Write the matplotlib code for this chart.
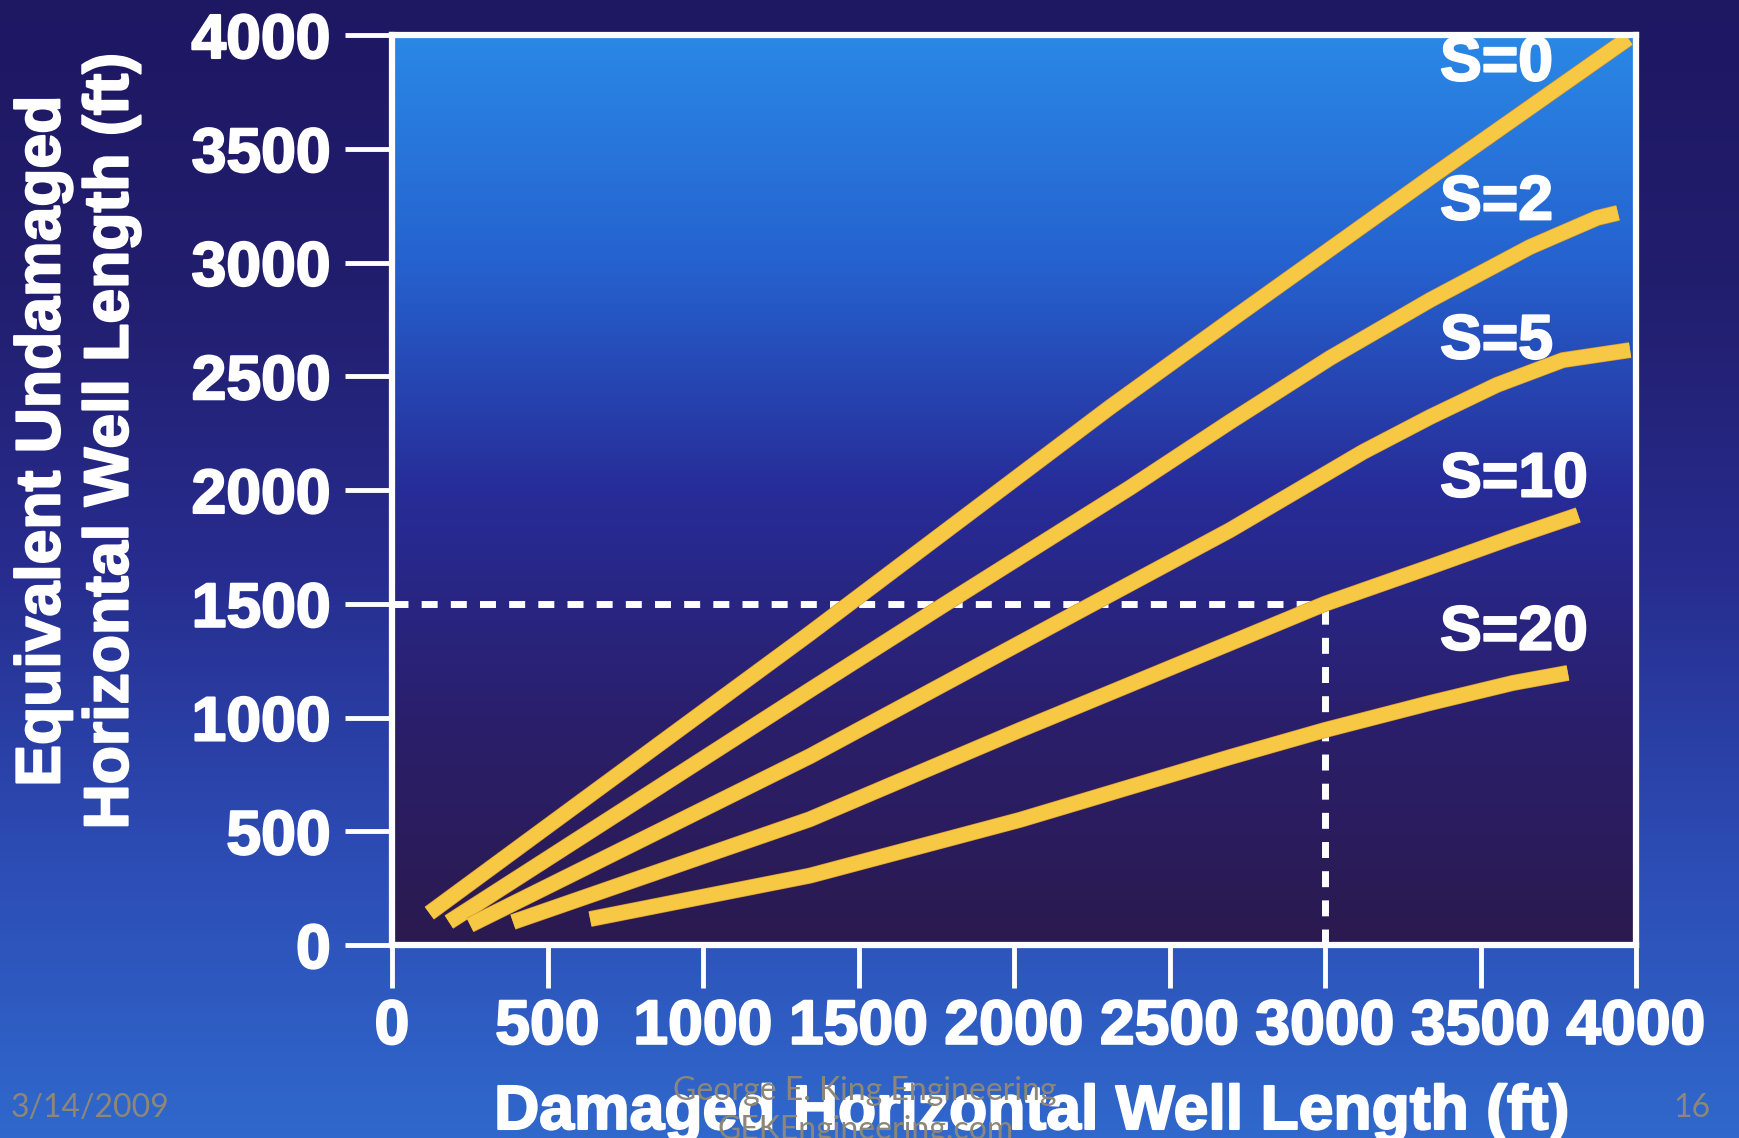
"""
Equivalent undamaged horizontal well length vs damaged length for several skin factors.
"""

import numpy as np
import matplotlib
matplotlib.use('Agg')
import matplotlib.pyplot as plt
import matplotlib.patheffects as pe
from matplotlib.colors import LinearSegmentedColormap

# Damaged length (ft) -> equivalent undamaged length (ft), one pair per skin value
s0_x = [120, 1344, 2310, 2695, 3340, 3975]
s0_y = [140, 1370, 2365, 2745, 3375, 3985]

s2_x = [183, 1344, 1780, 2373, 2695, 3016, 3338, 3659, 3875, 3942]
s2_y = [101, 1121, 1500, 2010, 2300, 2580, 2835, 3068, 3196, 3218]

s5_x = [251, 1344, 2228, 2695, 3122, 3338, 3553, 3765, 3981]
s5_y = [88, 830, 1481, 1824, 2167, 2321, 2462, 2571, 2615]

s10_x = [389, 1344, 2019, 2695, 3000, 3338, 3605, 3814]
s10_y = [101, 553, 945, 1327, 1500, 1662, 1793, 1890]

s20_x = [637, 1344, 2019, 2695, 3000, 3338, 3605, 3781]
s20_y = [114, 305, 550, 826, 945, 1064, 1152, 1196]

skin_labels = ['S=0', 'S=2', 'S=5', 'S=10', 'S=20']

# worked example: 3000 ft damaged well at S=10
example_x = 3000
example_y = 1500

ticks = [0, 500, 1000, 1500, 2000, 2500, 3000, 3500, 4000]

plt.rcParams['font.family'] = ['Liberation Sans', 'DejaVu Sans']
plt.rcParams['font.weight'] = 'bold'

W, H = 1739, 1138
fig = plt.figure(figsize=(W / 100, H / 100), dpi=100)

# slide background: dark navy at the top, brighter blue at the bottom
bg = fig.add_axes([0, 0, 1, 1], zorder=-10)
slide_cmap = LinearSegmentedColormap.from_list(
    'slide', ['#1e1762', '#221e6e', '#272c8e', '#2c4cb4', '#3068cc'])
bg.imshow(np.linspace(0, 1, 256).reshape(-1, 1), cmap=slide_cmap,
          aspect='auto', extent=[0, 1, 0, 1], origin='upper')
bg.set_axis_off()

ax = fig.add_axes([392 / W, 1 - 945 / H, (1636 - 392) / W, (945 - 35) / H])
ax.set_facecolor('none')

# plot area: bright blue at the top fading to dark purple
panel_cmap = LinearSegmentedColormap.from_list(
    'panel', [(0, '#2a88e6'), (0.25, '#2562cf'), (0.5, '#272c98'),
              (0.75, '#2a1f6c'), (1, '#2a1a4f')])
ax.imshow(np.linspace(0, 1, 256).reshape(-1, 1), cmap=panel_cmap,
          aspect='auto', extent=[0, 4000, 0, 4000], origin='upper', zorder=0)

# dashed guide lines for the example
dash = (0, (2.3, 1.9))
ax.plot([0, example_x], [example_y, example_y], color='white', lw=5,
        linestyle=dash, dash_capstyle='butt', zorder=2)
ax.plot([example_x, example_x], [0, example_y], color='white', lw=5,
        linestyle=dash, dash_capstyle='butt', zorder=2)

curves = [(s0_x, s0_y), (s2_x, s2_y), (s5_x, s5_y), (s10_x, s10_y), (s20_x, s20_y)]
for xs, ys in curves:
    ax.plot(xs, ys, color='#f7c843', lw=10.5, solid_capstyle='butt',
            solid_joinstyle='round', zorder=3,
            path_effects=[pe.Stroke(linewidth=11.5, foreground='#d99a2e',
                                    capstyle='butt', joinstyle='round'),
                          pe.Normal()])

text_fx = [pe.withStroke(linewidth=1.5, foreground='white')]

label_y = [3873, 3262, 2651, 2044, 1371]
for name, ly in zip(skin_labels, label_y):
    ax.text(3370, ly, name, color='white', fontsize=45, ha='left', va='center',
            zorder=4, path_effects=text_fx)

ax.set_xlim(0, 4000)
ax.set_ylim(0, 4000)
ax.set_xticks(ticks)
ax.set_yticks(ticks)
ax.set_xticklabels([str(t) for t in ticks])
ax.set_yticklabels([str(t) for t in ticks])

for side in ['left', 'right', 'top', 'bottom']:
    ax.spines[side].set_color('white')
    ax.spines[side].set_linewidth(4.5)
    ax.spines[side].set_zorder(5)

ax.tick_params(axis='y', length=34, width=3.5, color='white', pad=10,
               labelsize=45, labelcolor='white')
ax.tick_params(axis='x', length=31, width=3.5, color='white', pad=7,
               labelsize=45, labelcolor='white')
for lbl in ax.get_xticklabels() + ax.get_yticklabels():
    lbl.set_path_effects(text_fx)

fig.text(77 / W, 1 - 441 / H, 'Equivalent Undamaged\nHorizontal Well Length (ft)',
         rotation=90, ha='center', va='center', multialignment='center',
         fontsize=45, color='white', linespacing=1.2, path_effects=text_fx)
fig.text(1032 / W, 1 - 1129 / H, 'Damaged Horizontal Well Length (ft)',
         ha='center', va='baseline', fontsize=45, color='white',
         path_effects=text_fx)

# slide footer
footer = dict(color='#8c8778', fontsize=23, fontweight='normal',
              family=['Lato', 'DejaVu Sans'])
fig.text(90 / W, 1 - 1108 / H, '3/14/2009', ha='center', va='center', **footer)
fig.text(1692 / W, 1 - 1108 / H, '16', ha='center', va='center', **footer)
fig.text(865 / W, 1 - 1091 / H, 'George E. King Engineering',
         ha='center', va='center', **footer)
fig.text(866 / W, 1 - 1139 / H, 'GEKEngineering.com',
         ha='center', va='baseline', **footer)

fig.savefig('out.png', dpi=100)
plt.close(fig)
